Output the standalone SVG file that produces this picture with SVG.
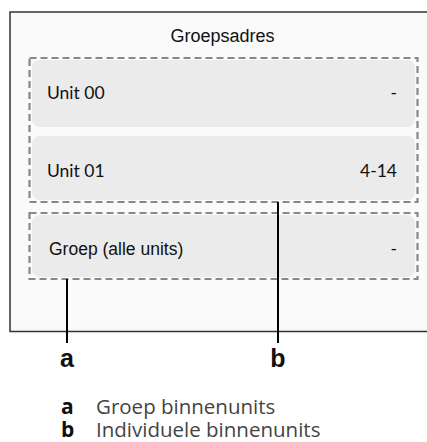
<svg xmlns="http://www.w3.org/2000/svg" width="427" height="442" viewBox="0 0 427 442">
<style>
.frame{fill:#fafafa;stroke:#333;stroke-width:1.5}
.dash{fill:none;stroke:#888;stroke-width:2.2;stroke-dasharray:7 4}
.row{fill:#ebebeb}
.unit{font-family:Lato,"Liberation Sans",sans-serif;font-size:17.5px;fill:#111}
.ar{font-family:"Liberation Sans",Arial,sans-serif;fill:#111}
.lead{stroke:#000;stroke-width:2;fill:none}
.lbl{font-family:"Liberation Sans",Arial,sans-serif;font-weight:bold;font-size:25px;fill:#111;text-anchor:middle}
.leg{font-family:"Open Sans","Liberation Sans",sans-serif;font-size:20.5px;fill:#444}
.legk{font-family:"Open Sans","Liberation Sans",sans-serif;font-size:21px;font-weight:bold;fill:#111}
</style>
<rect class="frame" x="10" y="12" width="430" height="319.5"/>
<text class="ar" x="222.5" y="41.5" font-size="18" text-anchor="middle">Groepsadres</text>
<g id="unit00">
<rect class="row" x="32" y="60" width="383" height="67" rx="8"/>
<text class="unit" x="47" y="99">Unit 00</text>
<text class="unit" x="397" y="99" text-anchor="end">-</text>
</g>
<g id="unit01">
<rect class="row" x="32" y="136" width="383" height="64" rx="8"/>
<text class="unit" x="47" y="177">Unit 01</text>
<text class="unit" x="397" y="177" text-anchor="end">4-14</text>
</g>
<g id="group">
<rect class="row" x="32" y="215" width="383" height="62" rx="8"/>
<text class="ar" x="49" y="255" font-size="17.5">Groep (alle units)</text>
<text class="unit" x="397" y="255" text-anchor="end">-</text>
</g>
<g id="individual-box"><rect class="dash" x="29.5" y="58" width="388" height="144"/></g>
<g id="group-box"><rect class="dash" x="29.5" y="213" width="388" height="66"/></g>
<g id="connectors">
<line class="lead" x1="67" y1="279" x2="67" y2="343"/>
<line class="lead" x1="278" y1="202" x2="278" y2="343"/>
</g>
<g id="label-a"><text class="lbl" x="67" y="367">a</text></g>
<g id="label-b"><text class="lbl" x="278" y="367">b</text></g>
<g id="legend">
<text class="legk" x="61" y="414">a</text>
<text class="leg" x="96" y="414">Groep binnenunits</text>
<text class="legk" x="61" y="436.5">b</text>
<text class="leg" x="96" y="436.5">Individuele binnenunits</text>
</g>
</svg>
